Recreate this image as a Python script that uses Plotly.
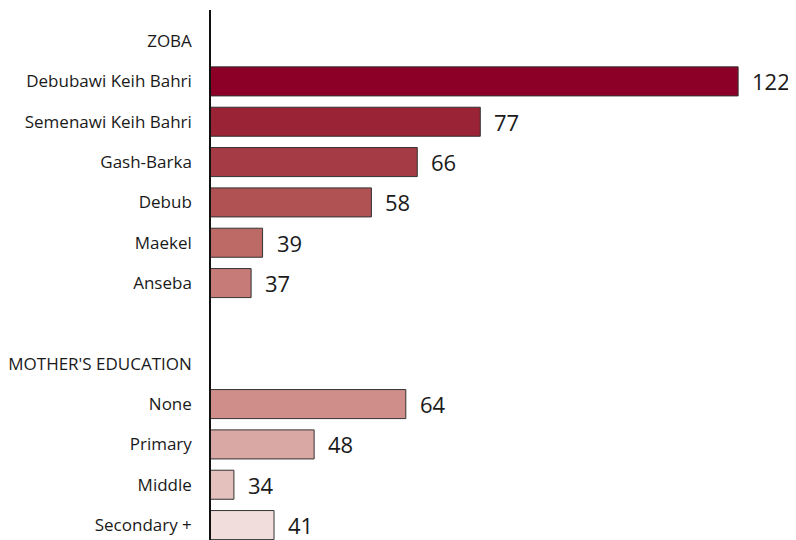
import plotly.graph_objects as go

zoba_labels = ["Debubawi Keih Bahri", "Semenawi Keih Bahri", "Gash-Barka", "Debub", "Maekel", "Anseba"]
zoba_values = [122, 77, 66, 58, 39, 37]
zoba_colors = ["#8C0028", "#9A2335", "#A53C45", "#B05253", "#BD6966", "#C67B79"]

edu_labels = ["None", "Primary", "Middle", "Secondary +"]
edu_values = [64, 48, 34, 41]
edu_colors = ["#CF8E8A", "#D9A8A4", "#E5C1BD", "#F1DDDB"]

header_zoba = "ZOBA"
header_edu = "MOTHER'S EDUCATION"
spacer = " "

categories = [header_zoba] + zoba_labels + [spacer, header_edu] + edu_labels
values = [None] + zoba_values + [None, None] + edu_values
colors = ["#ffffff"] + zoba_colors + ["#ffffff", "#ffffff"] + edu_colors

font_family = "Open Sans, Lato, DejaVu Sans, sans-serif"

fig = go.Figure()
fig.add_trace(go.Bar(
    y=categories,
    x=values,
    orientation="h",
    marker=dict(color=colors, line=dict(color="#333333", width=1)),
    width=0.72,
    hoverinfo="skip",
))

for cat, val in zip(zoba_labels + edu_labels, zoba_values + edu_values):
    fig.add_annotation(
        x=val, y=cat, text=str(val), showarrow=False,
        xanchor="left", yanchor="middle", xshift=12, yshift=0,
        font=dict(size=22, color="#1a1a1a", family=font_family),
    )

n = len(categories)
# page body has an 8px default margin, so the figure is sized to fill the rest
fig.update_layout(
    width=788, height=532,
    margin=dict(l=203, r=0, t=2, b=0, autoexpand=False),
    paper_bgcolor="white", plot_bgcolor="white",
    showlegend=False,
    xaxis=dict(range=[30, 132.1], visible=False, showgrid=False, zeroline=False),
    yaxis=dict(
        type="category",
        categoryorder="array", categoryarray=categories,
        range=[n - 1 + 0.37, -0.77],
        showline=True, linecolor="#111111", linewidth=1.5,
        showgrid=False, zeroline=False, automargin=False,
        ticks="", ticklabelstandoff=14,
        tickfont=dict(size=17, color="#1a1a1a", family=font_family),
    ),
)

fig.write_html("out.html")
